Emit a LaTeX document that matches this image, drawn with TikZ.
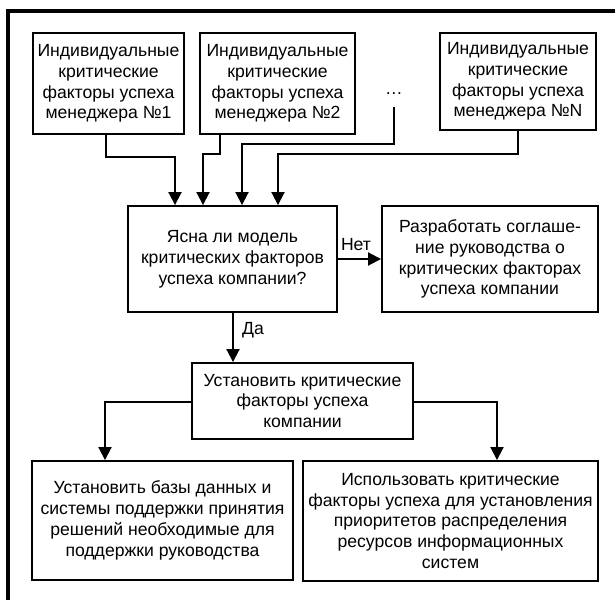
\documentclass[tikz,border=0pt]{standalone}
\usepackage{fontspec}
\setmainfont{Liberation Sans}
\usetikzlibrary{arrows.meta}
\tikzset{
  box/.style={draw, line width=1.9pt, inner sep=0pt, align=center,
    font=\fontsize{17.6}{20.8}\selectfont},
  lbl/.style={inner sep=0pt, font=\fontsize{17.6}{20.8}\selectfont},
  conn/.style={line width=1.9pt, -{Triangle[length=13pt,width=13pt]}},
  frame/.style={line width=4pt}
}
\begin{document}
\begin{tikzpicture}[x=1pt,y=-1pt]
\useasboundingbox (0,0) rectangle (615,599);
\clip (0,0) rectangle (615,599);
\draw[frame] (7.5,11.5) rectangle (640,640);

\node[box, minimum width=151pt, minimum height=101pt] (b1) at (108.5,83.5)
  {Индивидуальные\\критические\\факторы успеха\\менеджера №1};
\node[box, minimum width=155pt, minimum height=101pt] (b2) at (277.5,83.5)
  {Индивидуальные\\критические\\факторы успеха\\менеджера №2};
\node[box, minimum width=156pt, minimum height=97pt] (bn) at (518,81.5)
  {Индивидуальные\\критические\\факторы успеха\\менеджера №N};
\node[lbl] (dots) at (394,94) {\ldots};
\coordinate (dd) at (394,107);

\node[box, minimum width=209pt, minimum height=106pt] (q) at (232.5,259)
  {Ясна ли модель\\критических факторов\\успеха компании?};
\node[box, minimum width=216pt, minimum height=106pt] (r) at (490,259)
  {Разработать соглаше-\\ние руководства о\\критических факторах\\успеха компании};
\node[box, minimum width=221pt, minimum height=76pt] (s) at (302.5,401)
  {Установить критические\\факторы успеха\\компании};
\node[box, minimum width=261pt, minimum height=119pt] (bl) at (162.5,520.5)
  {Установить базы данных и\\системы поддержки принятия\\решений необходимые для\\поддержки руководства};
\node[box, minimum width=295pt, minimum height=120pt] (br) at (450.5,521)
  {Использовать критические\\факторы успеха для установления\\приоритетов распределения\\ресурсов информационных\\систем};

\node[lbl] (net) at (356,245) {Нет};
\node[lbl] (da) at (253,330) {Да};

\draw[conn] (b1.south -| 106,0) |- (175,157) -- (175,0 |- q.north);
\draw[conn] (b2.south -| 220,0) |- (203,154) -- (203,0 |- q.north);
\draw[conn] (dd) |- (242,144) -- (242,0 |- q.north);
\draw[conn] (bn.south) |- (278,154) -- (278,0 |- q.north);

\draw[conn] (q.east) -- (r.west);
\draw[conn] (q.south -| 233,0) -- (233,0 |- s.north);

\draw[conn] (s.west |- 0,402) -| (105,0 |- bl.north);
\draw[conn] (s.east |- 0,402) -| (497,0 |- br.north);
\end{tikzpicture}
\end{document}
